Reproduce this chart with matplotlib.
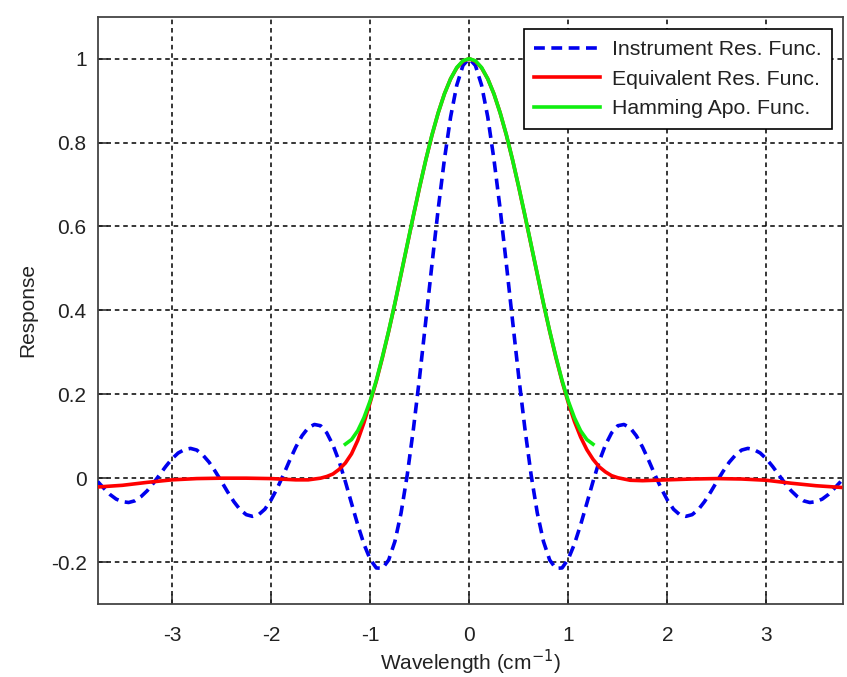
import numpy as np
import matplotlib
matplotlib.use("Agg")
import matplotlib.pyplot as plt

plt.rcParams["font.family"] = ["Liberation Sans", "DejaVu Sans"]

# Instrument response function (sinc-shaped), sampled values for x >= 0;
# the curve is even, so the negative side reuses the same samples.
x_inst_pos = [0.0, 0.0625, 0.125, 0.1875, 0.25, 0.3125, 0.375, 0.4375, 0.5, 0.5625,
              0.625, 0.6875, 0.75, 0.8125, 0.875, 0.9375, 1.0, 1.0625, 1.125, 1.1875,
              1.25, 1.3125, 1.375, 1.4375, 1.5, 1.5625, 1.625, 1.6875, 1.75, 1.8125,
              1.875, 1.9375, 2.0, 2.0625, 2.125, 2.1875, 2.25, 2.3125, 2.375, 2.4375,
              2.5, 2.5625, 2.625, 2.6875, 2.75, 2.8125, 2.875, 2.9375, 3.0, 3.0625,
              3.125, 3.1875, 3.25, 3.3125, 3.375, 3.4375, 3.5, 3.5625, 3.625, 3.6875,
              3.75]
y_inst_pos = [1.000, 0.984, 0.937, 0.861, 0.760, 0.642, 0.511, 0.376, 0.242, 0.118,
              0.008, -0.083, -0.151, -0.195, -0.215, -0.214, -0.193, -0.157, -0.111, -0.060,
              -0.008, 0.040, 0.079, 0.108, 0.125, 0.128, 0.120, 0.101, 0.074, 0.042,
              0.008, -0.024, -0.052, -0.074, -0.087, -0.091, -0.087, -0.075, -0.056, -0.033,
              -0.008, 0.016, 0.038, 0.055, 0.067, 0.071, 0.068, 0.060, 0.046, 0.028,
              0.008, -0.012, -0.030, -0.044, -0.054, -0.058, -0.056, -0.050, -0.039, -0.024,
              -0.008]

# Equivalent response function
x_equiv = [-3.75, -3.5, -3.25, -3.0, -2.75, -2.5, -2.25, -2.0, -1.75, -1.625,
           -1.5, -1.4375, -1.375, -1.3125, -1.25, -1.1875, -1.125, -1.0625, -1.0,
           -0.9375, -0.875, -0.8125, -0.75, -0.6875, -0.625, -0.5625, -0.5, -0.4375,
           -0.375, -0.3125, -0.25, -0.1875, -0.125, -0.0625, 0.0,
           0.0625, 0.125, 0.1875, 0.25, 0.3125, 0.375, 0.4375, 0.5, 0.5625, 0.625,
           0.6875, 0.75, 0.8125, 0.875, 0.9375, 1.0, 1.0625, 1.125, 1.1875, 1.25,
           1.3125, 1.375, 1.4375, 1.5, 1.625, 1.75, 2.0, 2.25, 2.5, 2.75, 3.0, 3.25,
           3.5, 3.75]
y_equiv = [-0.021, -0.017, -0.010, -0.004, -0.001, 0.0, 0.0, -0.001, -0.004, -0.004,
           0.0, 0.004, 0.010, 0.021, 0.036, 0.058, 0.090, 0.132, 0.180,
           0.231, 0.288, 0.350, 0.416, 0.486, 0.556, 0.626, 0.694, 0.759,
           0.818, 0.871, 0.916, 0.952, 0.978, 0.994, 1.0,
           0.994, 0.978, 0.952, 0.916, 0.871, 0.818, 0.759, 0.694, 0.626, 0.556,
           0.486, 0.416, 0.350, 0.288, 0.231, 0.180, 0.135, 0.098, 0.068, 0.045,
           0.027, 0.015, 0.006, 0.001, -0.005, -0.006, -0.004, -0.002, -0.001, -0.002,
           -0.005, -0.012, -0.018, -0.022]

# Hamming apodization function
x_hamm = [-1.25, -1.1875, -1.125, -1.0625, -1.0, -0.9375, -0.875, -0.8125, -0.75,
          -0.6875, -0.625, -0.5625, -0.5, -0.4375, -0.375, -0.3125, -0.25, -0.1875,
          -0.125, -0.0625, 0.0, 0.0625, 0.125, 0.1875, 0.25, 0.3125, 0.375, 0.4375,
          0.5, 0.5625, 0.625, 0.6875, 0.75, 0.8125, 0.875, 0.9375, 1.0, 1.0625, 1.125,
          1.1875, 1.25]
y_hamm = [0.081, 0.092, 0.113, 0.144, 0.184, 0.233, 0.290, 0.351, 0.417,
          0.487, 0.557, 0.627, 0.695, 0.759, 0.819, 0.871, 0.916, 0.952,
          0.979, 0.995, 1.0, 0.995, 0.979, 0.952, 0.916, 0.871, 0.819, 0.759,
          0.695, 0.627, 0.557, 0.487, 0.417, 0.351, 0.290, 0.233, 0.184, 0.144, 0.113,
          0.092, 0.081]

x_ticks = [-3, -2, -1, 0, 1, 2, 3]
x_tick_labels = ["-3", "-2", "-1", "0", "1", "2", "3"]
y_ticks = [-0.2, 0, 0.2, 0.4, 0.6, 0.8, 1.0]
y_tick_labels = ["-0.2", "0", "0.2", "0.4", "0.6", "0.8", "1"]

x_inst = [-v for v in x_inst_pos[:0:-1]] + x_inst_pos
y_inst = y_inst_pos[:0:-1] + y_inst_pos

fig = plt.figure(figsize=(8.47, 6.77), dpi=100)
ax = fig.add_axes([0.1153, 0.1078, 0.8796, 0.8675])

lw = 2.6
ax.plot(x_inst, y_inst, color="#0000ee", lw=lw, linestyle=(0, (3.0, 1.8)),
        label="Instrument Res. Func.", zorder=3)
ax.plot(x_equiv, y_equiv, color="#ff0000", lw=lw, label="Equivalent Res. Func.", zorder=4)
ax.plot(x_hamm, y_hamm, color="#11ee11", lw=lw, label="Hamming Apo. Func.", zorder=5)

ax.set_xlim(-3.75, 3.77)
ax.set_ylim(-0.3, 1.1)
ax.set_xticks(x_ticks)
ax.set_xticklabels(x_tick_labels)
ax.set_yticks(y_ticks)
ax.set_yticklabels(y_tick_labels)

ax.grid(True, color="black", linestyle=(0, (3, 2.5)), linewidth=1.1)
ax.set_axisbelow(True)
ax.tick_params(direction="in", length=7, width=1.1, labelsize=15, colors="#222222",
               top=False, right=False)
ax.tick_params(axis="y", pad=8)
ax.tick_params(axis="x", pad=16)
for s in ax.spines.values():
    s.set_color("#444444")
    s.set_linewidth(1.3)

ax.set_xlabel("Wavelength (cm$^{-1}$)", fontsize=15, color="#222222", labelpad=2)
ax.set_ylabel("Response", fontsize=15, color="#222222", labelpad=10)

leg = ax.legend(loc="upper right", bbox_to_anchor=(0.9857, 0.9785), borderaxespad=0,
                fontsize=15.3, handlelength=3.1, frameon=True, fancybox=False,
                edgecolor="black", framealpha=1, borderpad=0.5, labelspacing=0.5,
                handletextpad=0.55)
leg.get_frame().set_linewidth(1.2)
for t in leg.get_texts():
    t.set_color("#222222")

fig.savefig("out.png", dpi=100)
